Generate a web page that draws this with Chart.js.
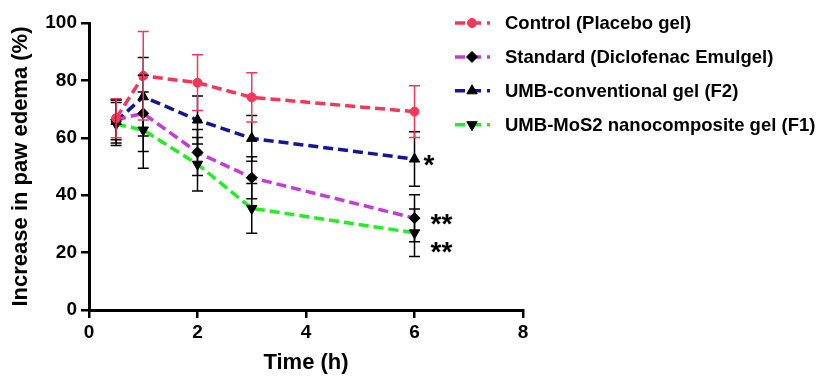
<!DOCTYPE html>
<html>
<head>
<meta charset="utf-8">
<script src="https://cdn.jsdelivr.net/npm/chart.js@4"></script>
<style>
  html, body { margin: 0; padding: 0; background: #fff; }
  #wrap { width: 823px; height: 378px; }
</style>
</head>
<body>
<div id="wrap"><canvas id="edemaChart" width="823" height="378"></canvas></div>
<script>
// time points (h)
const timePoints = [0.5, 1, 2, 3, 6];
const xTicks = [0, 2, 4, 6, 8];
const yTicks = [0, 20, 40, 60, 80, 100];

const seriesNames = [
    'Control (Placebo gel)',
    'Standard (Diclofenac Emulgel)',
    'UMB-conventional gel (F2)',
    'UMB-MoS2 nanocomposite gel (F1)'
];

// mean increase in paw edema (%)
const controlVals = [66.8, 81.6, 79.2, 74.1, 69.1];
const standardVals = [66.3, 68.5, 54.9, 46.1, 32.0];
const convVals = [65.7, 74.3, 66.2, 59.8, 52.6];
const mos2Vals = [64.8, 62.7, 50.8, 35.4, 26.9];

// error (SD)
const controlErr = [6.8, 15.4, 9.7, 8.6, 9.0];
const standardErr = [7.0, 13.3, 8.0, 7.3, 8.2];
const convErr = [7.5, 13.7, 8.4, 8.0, 9.5];
const mos2Err = [7.5, 13.3, 9.3, 8.7, 8.3];

// significance marks at last time point
const sigMarks = ['', '**', '*', '**'];

const lineColors = ['#f2385a', '#c53bd6', '#15159a', '#22ee22'];
const markerColors = ['#f2385a', '#000000', '#000000', '#000000'];
const markerStyles = ['circle', 'rectRot', 'triangle', 'triangle'];
const markerRotation = [0, 0, 0, 180];
const markerSize = [4.5, 5.5, 6, 6];

const allVals = [controlVals, standardVals, convVals, mos2Vals];
const allErr = [controlErr, standardErr, convErr, mos2Err];
const errColors = ['#f2385a', '#000', '#000', '#000'];

const font = 'Liberation Sans, Arial, sans-serif';

const datasets = seriesNames.map((name, i) => ({
    label: name,
    data: timePoints.map((t, j) => ({ x: t, y: allVals[i][j] })),
    borderColor: lineColors[i],
    backgroundColor: markerColors[i],
    pointBackgroundColor: markerColors[i],
    pointBorderColor: markerColors[i],
    pointBorderWidth: 1,
    pointStyle: markerStyles[i],
    rotation: markerRotation[i],
    pointRadius: markerSize[i],
    borderWidth: 3.5,
    borderDash: [10, 5],
    tension: 0,
    fill: false
}));

// error bars drawn through the scales
const errorBars = {
    id: 'errorBars',
    afterDatasetsDraw(chart) {
        const { ctx, scales: { x, y } } = chart;
        ctx.save();
        ctx.lineWidth = 1.5;
        for (let i = allVals.length - 1; i >= 0; i--) {
            ctx.strokeStyle = errColors[i];
            timePoints.forEach((t, j) => {
                const px = x.getPixelForValue(t);
                const top = y.getPixelForValue(allVals[i][j] + allErr[i][j]);
                const bot = y.getPixelForValue(allVals[i][j] - allErr[i][j]);
                ctx.beginPath();
                ctx.moveTo(px, top); ctx.lineTo(px, bot);
                ctx.moveTo(px - 5.5, top); ctx.lineTo(px + 5.5, top);
                ctx.moveTo(px - 5.5, bot); ctx.lineTo(px + 5.5, bot);
                ctx.stroke();
            });
        }
        ctx.restore();
    }
};

// asterisks and the legend on the right
const extras = {
    id: 'extras',
    afterDraw(chart) {
        const { ctx, scales: { x, y } } = chart;
        ctx.save();
        const last = timePoints.length - 1;
        ctx.fillStyle = '#000';
        ctx.font = 'bold 28px ' + font;
        ctx.textBaseline = 'alphabetic';
        ctx.textAlign = 'left';
        sigMarks.forEach((m, i) => {
            if (!m) return;
            const px = x.getPixelForValue(timePoints[last]);
            const py = y.getPixelForValue(allVals[i][last]);
            const off = m === '*' ? 9 : 16;
            const shift = i === 3 ? 14 : 0; // lower mark sits below its point
            ctx.fillText(m, px + off, py + 14.5 + shift);
        });

        // legend
        chart.data.datasets.forEach((ds, i) => {
            const yy = 23 + i * 33.9;
            ctx.strokeStyle = ds.borderColor;
            ctx.lineWidth = 3.5;
            ctx.setLineDash([10, 6]);
            ctx.beginPath();
            ctx.moveTo(455, yy); ctx.lineTo(490, yy);
            ctx.stroke();
            ctx.setLineDash([]);
            ctx.fillStyle = ds.pointBackgroundColor;
            ctx.strokeStyle = ds.pointBorderColor;
            ctx.lineWidth = 1;
            Chart.helpers.drawPoint(ctx, {
                pointStyle: ds.pointStyle, rotation: ds.rotation,
                radius: ds.pointRadius, borderWidth: 1
            }, 472, yy);
            ctx.fillStyle = '#000';
            ctx.font = 'bold 18.5px ' + font;
            ctx.textBaseline = 'middle';
            ctx.fillText(ds.label, 505, yy + 1);
        });
        ctx.restore();
    }
};

const tickFont = { family: font, size: 19, weight: 'bold' };
const titleFont = { family: font, size: 22, weight: 'bold' };

new Chart(document.getElementById('edemaChart'), {
    type: 'line',
    data: { datasets },
    options: {
        responsive: false,
        animation: false,
        layout: { padding: { left: 0, top: 23, right: 300, bottom: 0 } },
        plugins: { legend: { display: false }, tooltip: { enabled: false } },
        scales: {
            x: {
                type: 'linear', min: 0, max: 8,
                afterBuildTicks: s => { s.ticks = xTicks.map(v => ({ value: v })); },
                afterFit: s => { s.height = 68; },
                ticks: { color: '#000', font: tickFont, padding: 3 },
                grid: { drawOnChartArea: false, color: '#000', lineWidth: 2.5, tickLength: 8 },
                border: { color: '#000', width: 3 },
                title: { display: true, text: 'Time (h)', color: '#000', font: titleFont, padding: { top: 0, bottom: 2 } }
            },
            y: {
                min: 0, max: 100,
                afterBuildTicks: s => { s.ticks = yTicks.map(v => ({ value: v })); },
                afterFit: s => { s.width = 89; },
                ticks: { color: '#000', font: tickFont, padding: 4 },
                grid: { drawOnChartArea: false, color: '#000', lineWidth: 2.5, tickLength: 8 },
                border: { color: '#000', width: 3 },
                title: { display: true, text: 'Increase in paw edema (%)', color: '#000', font: titleFont, padding: { top: 8, bottom: 0 } }
            }
        }
    },
    plugins: [errorBars, extras]
});
</script>
</body>
</html>
